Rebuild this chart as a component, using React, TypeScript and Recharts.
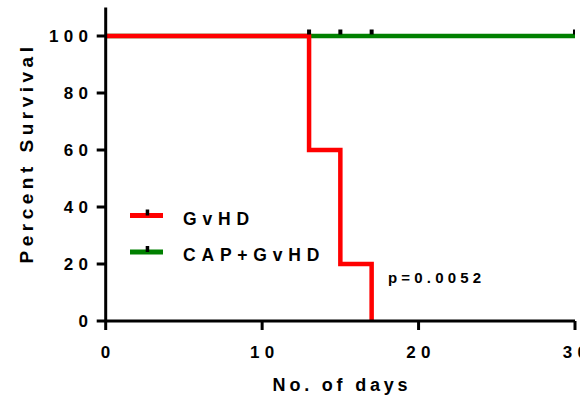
import React from 'react';
import { ComposedChart, Line, XAxis, YAxis } from 'recharts';

// GvHD group (Kaplan-Meier steps)
const gvhdDays = [0, 13, 15, 17];
const gvhdSurvival = [100, 60, 20, 0];
// CAP+GvHD group
const capDays = [0, 13, 15, 17, 30];
const capSurvival = [100, 100, 100, 100, 100];
const capCensored = [false, true, true, true, true];

const xTicks = [0, 10, 20, 30];
const yTicks = [0, 20, 40, 60, 80, 100];
const seriesNames = ['GvHD', 'CAP+GvHD'];
const seriesColors = ['#ff0000', '#008000'];
const xTitle = 'No. of days';
const yTitle = 'Percent Survival';
const pValueText = 'p=0.0052';

const gvhdData = gvhdDays.map((d, i) => ({ x: d, y: gvhdSurvival[i] }));
const capData = capDays.map((d, i) => ({ x: d, y: capSurvival[i], censored: capCensored[i] }));

const FONT = '"Liberation Sans", Arial, sans-serif';
const tickStyle: React.CSSProperties = {
  fontFamily: FONT,
  fontWeight: 700,
  fontSize: 17,
  letterSpacing: 5.3,
  fill: '#000',
};

const YTick = (props: any) => (
  <text x={props.x - 3.5} y={props.y + 6} textAnchor="end" style={tickStyle}>
    {props.payload.value}
  </text>
);

const XTick = (props: any) => (
  <text x={props.x + 2.5} y={props.y + 28} textAnchor="middle" style={tickStyle}>
    {props.payload.value}
  </text>
);

const CensorDot = (props: any) => {
  const { cx, cy, payload, index } = props;
  if (!payload || !payload.censored) return <g key={`d${index}`} />;
  return <rect key={`d${index}`} x={cx - 2} y={cy - 6.5} width={4} height={5} fill="#000" />;
};

export default function App() {
  return (
    <div style={{ position: 'absolute', left: 0, top: 0, width: 580, height: 395, background: '#fff' }}>
      <ComposedChart
        width={580}
        height={395}
        margin={{ top: 7.5, right: 5, bottom: 44, left: 45.7 }}
      >
        <XAxis
          type="number"
          dataKey="x"
          domain={[0, 30]}
          ticks={xTicks}
          allowDataOverflow
          height={30}
          axisLine={{ stroke: '#000', strokeWidth: 3 }}
          tickLine={{ stroke: '#000', strokeWidth: 3 }}
          tickSize={9}
          tickMargin={0}
          tick={XTick}
          interval={0}
        />
        <YAxis
          type="number"
          dataKey="y"
          domain={[0, 110]}
          ticks={yTicks}
          allowDataOverflow
          width={60}
          axisLine={{ stroke: '#000', strokeWidth: 3 }}
          tickLine={{ stroke: '#000', strokeWidth: 3 }}
          tickSize={9}
          tickMargin={0}
          tick={YTick}
          interval={0}
        />
        <Line
          data={capData}
          dataKey="y"
          type="stepAfter"
          stroke={seriesColors[1]}
          strokeWidth={4.5}
          dot={CensorDot}
          activeDot={false}
          isAnimationActive={false}
          strokeLinecap="butt"
        />
        <Line
          data={gvhdData}
          dataKey="y"
          type="stepAfter"
          stroke={seriesColors[0]}
          strokeWidth={4.5}
          dot={false}
          activeDot={false}
          isAnimationActive={false}
          strokeLinecap="butt"
        />
      </ComposedChart>
      <svg
        width={580}
        height={395}
        style={{ position: 'absolute', left: 0, top: 0, pointerEvents: 'none' }}
      >
        <text
          transform="translate(33,153) rotate(-90)"
          textAnchor="middle"
          style={{ fontFamily: FONT, fontWeight: 700, fontSize: 19, letterSpacing: 4.5, fill: '#000' }}
        >
          {yTitle}
        </text>
        <text
          x={342}
          y={391}
          textAnchor="middle"
          style={{ fontFamily: FONT, fontWeight: 700, fontSize: 18, letterSpacing: 3.8, fill: '#000' }}
        >
          {xTitle}
        </text>
        {seriesNames.map((name, i) => {
          const cy = i === 0 ? 215.5 : 252;
          return (
            <g key={name}>
              <line x1={130} x2={163} y1={cy} y2={cy} stroke={seriesColors[i]} strokeWidth={5} />
              <rect x={145.7} y={cy - 6} width={3.5} height={6} fill="#000" />
              <text
                x={183}
                y={i === 0 ? 225 : 261}
                style={{ fontFamily: FONT, fontWeight: 700, fontSize: 17.5, letterSpacing: 5.8, fill: '#000' }}
              >
                {name}
              </text>
            </g>
          );
        })}
        <text
          x={388}
          y={283}
          style={{ fontFamily: FONT, fontWeight: 700, fontSize: 15, letterSpacing: 4.2, fill: '#000' }}
        >
          {pValueText}
        </text>
      </svg>
    </div>
  );
}
